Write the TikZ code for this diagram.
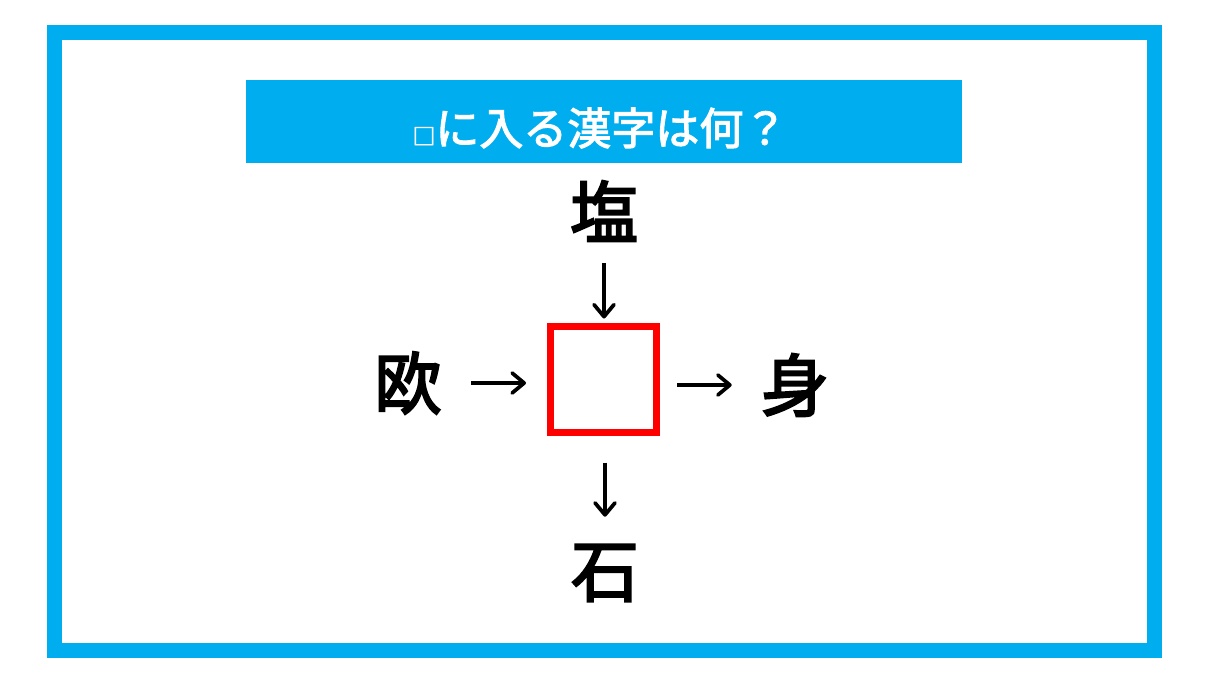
\documentclass[tikz,border=0pt]{standalone}
\usepackage{fontspec}
\newfontfamily\cjk[FakeBold=3]{Noto Sans CJK JP}
\newfontfamily\cjkt[FakeBold=2.5]{Noto Sans CJK JP}
\usetikzlibrary{arrows.meta}
\definecolor{frameblue}{RGB}{0,174,239}
\definecolor{boxred}{RGB}{255,0,0}
\begin{document}
\begin{tikzpicture}[x=0.75pt,y=-0.75pt,
  kanji/.style={font=\cjk\fontsize{51}{51}\selectfont, inner sep=0pt, minimum width=52.5pt, minimum height=52.5pt},
  arr/.style={line width=2.8pt, -{Straight Barb[length=9pt,width=15pt,round]}},
  titletext/.style={text=white, font=\cjkt\fontsize{33}{33}\selectfont, inner sep=0pt},
  bar/.style={fill=frameblue, inner sep=0pt, minimum width=537pt, minimum height=62.25pt},
  blank/.style={draw=boxred, line width=5.25pt, inner sep=0pt, minimum size=79.5pt}
 ]
\useasboundingbox (0,0) rectangle (1214,682);
\fill[white] (0,0) rectangle (1214,682);
\draw[frameblue, line width=11.25pt] (54.5,32.5) rectangle (1154.5,650.5);
\node[bar] (bar) at (604,121.5) {};
\node[titletext] (title) at (600,128) {{\fontsize{17}{17}\selectfont □}に入る漢字は何？};
\node[blank] (box) at (603.5,379) {};
\node[kanji] (shio) at (604,211) {塩};
\node[kanji] (o) at (408,383) {欧};
\node[kanji] (mi) at (795,385) {身};
\node[kanji] (ishi) at (605,573) {石};
\draw[arr, shorten <=12.75pt, shorten >=3pt] (shio.south) -- (shio.south |- box.north);
\draw[arr, shorten <=20.25pt, shorten >=15.75pt] (ishi.north |- box.south) -- (ishi.north);
\draw[arr, shorten <=21pt, shorten >=15.75pt] (o.east) -- (o.east -| box.west);
\draw[arr, shorten <=12.75pt, shorten >=21pt] (mi.west -| box.east) -- (mi.west);
\end{tikzpicture}
\end{document}
